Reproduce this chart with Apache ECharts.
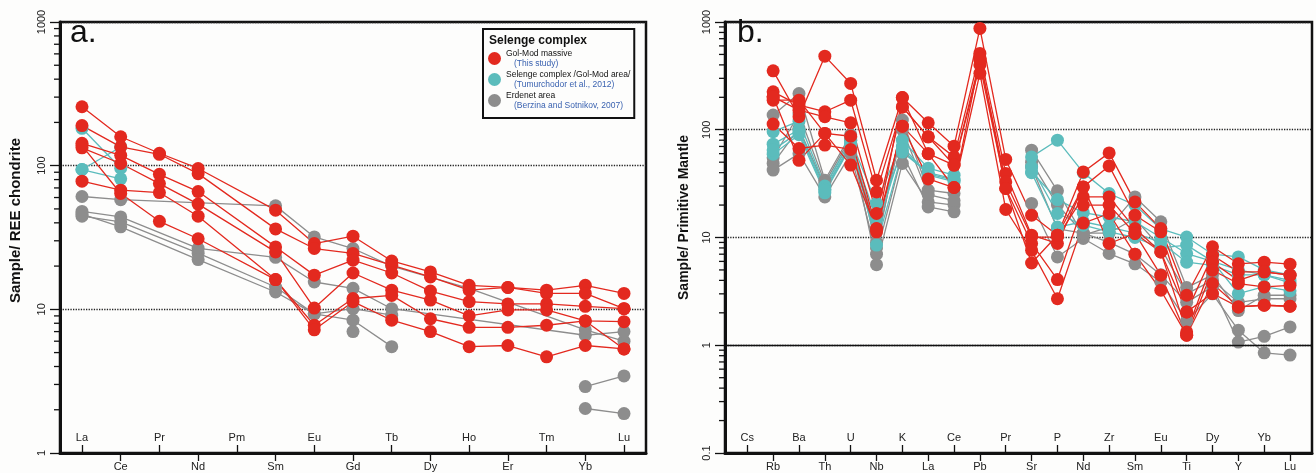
<!DOCTYPE html>
<html>
<head>
<meta charset="utf-8">
<script src="https://cdn.jsdelivr.net/npm/echarts@6/dist/echarts.min.js"></script>
<style>
  html, body { margin: 0; padding: 0; background: #fdfdfc; }
  #chart { width: 1316px; height: 473px; }
</style>
</head>
<body>
<div id="chart"></div>
<script>
// a. chondrite normalised REE
var reeLabels = ['La', 'Ce', 'Pr', 'Nd', 'Pm', 'Sm', 'Eu', 'Gd', 'Tb', 'Dy', 'Ho', 'Er', 'Tm', 'Yb', 'Lu'];
// b. primitive mantle normalised
var pmLabels = ['Cs', 'Rb', 'Ba', 'Th', 'U', 'Nb', 'K', 'La', 'Ce', 'Pb', 'Pr', 'Sr', 'P', 'Nd', 'Zr', 'Sm', 'Eu', 'Ti', 'Dy', 'Y', 'Yb', 'Lu'];

var reeTicks = [1, 10, 100, 1000];
var pmTicks = [0.1, 1, 10, 100, 1000];
var reeMinorTicks = [2, 3, 4, 5, 6, 7, 8, 9, 20, 30, 40, 50, 60, 70, 80, 90, 200, 300, 400, 500, 600, 700, 800, 900];
var pmMinorTicks = [0.2, 0.3, 0.4, 0.5, 0.6, 0.7, 0.8, 0.9, 2, 3, 4, 5, 6, 7, 8, 9, 20, 30, 40, 50, 60, 70, 80, 90, 200, 300, 400, 500, 600, 700, 800, 900];

// Gol-Mod massive (this study)
var reeRed1 = [257, 159, 122, 95.6, null, 49, 28.7, 32.3, 21.7, 18.2, 14.7, 14.2, 13.6, 14.7, 12.9];
var reeRed2 = [190, 135, 120, 88, null, 36.3, 26.5, 24.5, 20.3, 16.8, 13.6, 14.2, 12.9, 12.9, 10.1];
var reeRed3 = [143, 118, 87, 66, null, 27.2, 17.3, 22, 17.9, 13.4, 11.3, 10.9, 10.9, 10.5, 10.1];
var reeRed4 = [133, 103.5, 75, 54, null, 25.1, 10.2, 17.9, 13.6, 11.6, 9.0, 9.9, 9.9, 8.3, 8.2];
var reeRed5 = [78, 67.5, 65, 44.5, null, 16.1, 7.75, 11.9, 12.5, 8.6, 7.5, 7.5, 7.75, 8.3, 5.3];
var reeRed6 = [138, 64, 41, 31, null, 16.1, 7.2, 11.3, 8.4, 7.0, 5.5, 5.6, 4.67, 5.6, 5.3];
// Selenge complex /Gol-Mod area/
var reeTeal1 = [182, 96, null, null, null, null, null, null, null, null, null, null, null, null, null];
var reeTeal2 = [94, 135, null, null, null, null, null, null, null, null, null, null, null, null, null];
var reeTeal3 = [94, 81, null, null, null, null, null, null, null, null, null, null, null, null, null];
// Erdenet area
var reeGray1 = [61, 58, null, null, null, 52.5, 31.9, 26.5, 20, null, 14, null, null, 7.2, 6.0];
var reeGray2 = [48, 44, null, 26.6, null, 23, 15.5, 14, 10.1, null, null, null, null, 6.6, 7.0];
var reeGray3 = [44.5, 40.6, null, 24.6, null, 14.3, 9.3, 10.1, 9.1, null, null, null, null, null, null];
var reeGray4 = [46, 37.5, null, 22.2, null, 13.2, 9.3, 8.4, 5.5, null, null, null, null, null, null];
var reeGray5 = [null, null, null, null, null, null, null, 7.0, null, null, null, null, null, 2.9, 3.44];
var reeGray6 = [null, null, null, null, null, null, null, null, null, null, null, null, null, 2.04, 1.88];

var pmRed1 = [null, 352, 132, 482, 269, 34, 199, 116, 70.4, 871, 53, 16.1, 10.5, 40.6, 61, 21.4, 12.1, 2.91, 8.2, 5.7, 5.9, 5.65];
var pmRed2 = [null, 225, 169, 147, 188, 26.5, 163, 86, 56, 511, 39.3, 10.5, 8.8, 29.5, 46.2, 16.1, 11.3, 2.04, 6.85, 4.8, 4.8, 4.47];
var pmRed3 = [null, 202, 152, 132, 116, 16.7, 163, 86, 47, 443, 32.8, 10.1, 10.1, 23.8, 23.8, 12.1, 7.35, 1.33, 5.9, 4.0, 4.8, 4.47];
var pmRed4 = [null, 188, 188, 92.5, 87, 12.1, 108, 60, 47, 400, 28.5, 8.8, 4.07, 20, 20, 10.9, 4.47, 1.24, 4.97, 3.74, 3.48, 3.6];
var pmRed5 = [null, 113, 67, 72, 65.6, 11.3, 108, 35, 29.1, 334, 18.2, 7.6, 2.7, 13.6, 16.7, 7.0, 3.24, 1.24, 3.74, 2.27, 2.35, 2.3];
var pmRed6 = [null, 202, 52, 92.5, 47, 12, 199, 60, 29.1, 460, 28.5, 5.8, 10.5, 29.5, 8.8, 10.9, 7.35, 2.04, 3.02, 2.27, 2.35, 2.3];

var pmTeal1 = [null, 96, 120, 30, 80, 20.8, 80, 44, 37.9, null, null, 56, 80, 40, 25.6, 20, 12, 10.1, 7, 6.6, 5, 4.5];
var pmTeal2 = [null, 73.5, 100, 28, 75, 8.5, 62, 40, 35, null, null, 40.6, 22.5, 17, 15.5, 14, 10, 7.1, 6, 3.02, 3.5, 3.2];
var pmTeal3 = [null, 59.3, 90, 26, 70, 12, 70, 38, 33, null, null, 40, 12.5, 14, 12.5, 11, 9, 5.9, 5.5, 4.5, 4.5, 4];
var pmTeal4 = [null, 65, 95, 27, 72, 15, 65, 39, 34, null, null, 45, 16.7, 13, 11.3, 10, 8, 8.5, 6, 5, 4.5, 3.8];

var pmGray1 = [null, 137, 217, 34, 90, 8, 123, 27.5, 25.6, null, null, 64.6, 27.1, 10.5, 12.5, 23.8, 14, 3.43, 4.5, 2.1, 2.91, 2.91];
var pmGray2 = [null, 48.7, 103, 29.5, 80, 5.6, 48.7, 21.4, 20, null, null, 20.7, 6.6, 9.8, 7.1, 5.7, 3.87, 1.68, 3.0, 1.38, 0.85, 0.81];
var pmGray3 = [null, 42.2, 60, 23.8, 60, 7, 60, 19.2, 17.3, null, null, 45, 12, 11, 9, 7, 4.5, 2.5, 3.5, 1.07, 1.21, 1.48];
var pmGray4 = [null, 55, 140, 32, 85, 9, 100, 25, 22, null, null, 50, 20, 11, 11, 15, 8, 3, 4, 2.5, 2.7, 2.7];

var NAME_RED = 'Gol-Mod massive';
var NAME_TEAL = 'Selenge complex /Gol-Mod area/';
var NAME_GRAY = 'Erdenet area';
var refs = {};
refs[NAME_RED] = '(This study)';
refs[NAME_TEAL] = '(Tumurchodor et al., 2012)';
refs[NAME_GRAY] = '(Berzina and Sotnikov, 2007)';

var RED = '#e3291f', TEAL = '#5bbcbc', GRAY = '#8d8d8d', INK = '#111';
var FONT = '"Liberation Sans", Arial, Helvetica, sans-serif';

function sampleLine(name, values, color, grid, connect) {
    return {
        name: name,
        type: 'line',
        xAxisIndex: grid * 2,
        yAxisIndex: grid,
        data: values.map(function (v, i) { return [i + 1, v == null ? '-' : v]; }),
        connectNulls: !!connect,
        symbol: 'circle',
        symbolSize: 13,
        itemStyle: { color: color },
        lineStyle: { color: color, width: 1.3 },
        emphasis: { disabled: true },
        animation: false
    };
}

// short minor ticks to the left of the log axis
function minorTicks(grid, values) {
    return {
        type: 'custom',
        xAxisIndex: grid * 2,
        yAxisIndex: grid,
        silent: true,
        clip: false,
        animation: false,
        data: values.map(function (v) { return [1, v]; }),
        renderItem: function (params, api) {
            var y = api.coord([1, api.value(1)])[1];
            var x0 = params.coordSys.x;
            return { type: 'line', shape: { x1: x0 - 6, y1: y, x2: x0, y2: y }, style: { stroke: INK, lineWidth: 1.3 } };
        }
    };
}

function elementAxis(grid, labels, min, max, inside) {
    var vals = labels.map(function (_, i) { return i + 1; })
        .filter(function (v) { return inside ? v % 2 === 1 : v % 2 === 0; });
    return {
        type: 'value',
        gridIndex: grid,
        position: 'bottom',
        min: min,
        max: max,
        axisLine: { show: inside, onZero: false, lineStyle: { color: INK, width: 3 } },
        axisTick: { show: true, inside: inside, length: 8, customValues: vals, lineStyle: { color: INK, width: 1.3 } },
        axisLabel: {
            inside: inside, margin: inside ? 10 : 8, customValues: vals,
            formatter: function (v) { return labels[Math.round(v) - 1]; },
            fontSize: 11, color: '#222'
        },
        splitLine: { show: false }
    };
}

function logAxis(grid, min, max, name, nameSize, gap, shift) {
    return {
        type: 'log',
        logBase: 10,
        gridIndex: grid,
        min: min,
        max: max,
        name: name,
        nameLocation: 'middle',
        nameGap: gap,
        nameTextStyle: { fontSize: nameSize, fontWeight: 'bold', color: INK, padding: [0, 0, 0, shift] },
        axisLine: { show: true, lineStyle: { color: INK, width: 3 } },
        axisTick: { length: 10, lineStyle: { color: INK, width: 1.3 } },
        axisLabel: {
            rotate: 90, margin: 13, fontSize: 11, color: '#222',
            formatter: function (v) { return String(v); }
        },
        splitLine: { show: true, lineStyle: { type: 'dotted', color: '#222', width: 1.3 } }
    };
}

var series = [
    minorTicks(0, reeMinorTicks),
    minorTicks(1, pmMinorTicks),
    sampleLine(NAME_GRAY, reeGray1, GRAY, 0, true),
    sampleLine(NAME_GRAY, reeGray2, GRAY, 0, true),
    sampleLine(NAME_GRAY, reeGray3, GRAY, 0, true),
    sampleLine(NAME_GRAY, reeGray4, GRAY, 0, true),
    sampleLine(NAME_GRAY, reeGray5, GRAY, 0, false),
    sampleLine(NAME_GRAY, reeGray6, GRAY, 0, false),
    sampleLine(NAME_TEAL, reeTeal1, TEAL, 0, false),
    sampleLine(NAME_TEAL, reeTeal2, TEAL, 0, false),
    sampleLine(NAME_TEAL, reeTeal3, TEAL, 0, false),
    sampleLine(NAME_RED, reeRed1, RED, 0, true),
    sampleLine(NAME_RED, reeRed2, RED, 0, true),
    sampleLine(NAME_RED, reeRed3, RED, 0, true),
    sampleLine(NAME_RED, reeRed4, RED, 0, true),
    sampleLine(NAME_RED, reeRed5, RED, 0, true),
    sampleLine(NAME_RED, reeRed6, RED, 0, true),
    sampleLine(NAME_GRAY, pmGray1, GRAY, 1, false),
    sampleLine(NAME_GRAY, pmGray2, GRAY, 1, false),
    sampleLine(NAME_GRAY, pmGray3, GRAY, 1, false),
    sampleLine(NAME_GRAY, pmGray4, GRAY, 1, false),
    sampleLine(NAME_TEAL, pmTeal1, TEAL, 1, false),
    sampleLine(NAME_TEAL, pmTeal2, TEAL, 1, false),
    sampleLine(NAME_TEAL, pmTeal3, TEAL, 1, false),
    sampleLine(NAME_TEAL, pmTeal4, TEAL, 1, false),
    sampleLine(NAME_RED, pmRed1, RED, 1, false),
    sampleLine(NAME_RED, pmRed2, RED, 1, false),
    sampleLine(NAME_RED, pmRed3, RED, 1, false),
    sampleLine(NAME_RED, pmRed4, RED, 1, false),
    sampleLine(NAME_RED, pmRed5, RED, 1, false),
    sampleLine(NAME_RED, pmRed6, RED, 1, false)
];

// solid reference line at 1 on the mantle plot
series[1].markLine = {
    silent: true, symbol: 'none', animation: false,
    label: { show: false },
    lineStyle: { type: 'solid', color: INK, width: 1.3 },
    data: [{ yAxis: 1 }]
};

var chart = echarts.init(document.getElementById('chart'), null, { renderer: 'canvas' });
chart.setOption({
    backgroundColor: '#fdfdfc',
    animation: false,
    textStyle: { fontFamily: FONT },
    title: [
        { text: 'a.', left: 70, top: 17, padding: 0, textStyle: { fontSize: 32, fontWeight: 'normal', color: INK, fontFamily: FONT } },
        { text: 'b.', left: 737, top: 17, padding: 0, textStyle: { fontSize: 32, fontWeight: 'normal', color: INK, fontFamily: FONT } },
        { text: 'Selenge complex', left: 489, top: 35, padding: 0, textStyle: { fontSize: 12, fontWeight: 'bold', color: INK, fontFamily: FONT } }
    ],
    legend: {
        data: [NAME_RED, NAME_TEAL, NAME_GRAY],
        orient: 'vertical',
        left: 483,
        top: 29,
        padding: [20, 4, 8, 5],
        itemGap: 2,
        itemWidth: 13,
        itemHeight: 13,
        icon: 'circle',
        borderColor: INK,
        borderWidth: 2,
        selectedMode: false,
        formatter: function (n) { return '{m|' + n + '}\n{s|' + refs[n] + '}'; },
        textStyle: {
            fontFamily: FONT,
            rich: {
                m: { fontSize: 8.5, color: INK, lineHeight: 10, fontFamily: FONT },
                s: { fontSize: 8.5, color: '#3a62b0', lineHeight: 10, padding: [0, 0, 0, 8], fontFamily: FONT }
            }
        }
    },
    grid: [
        { left: 60, top: 22, width: 586, height: 431, show: true, borderColor: INK, borderWidth: 2.5, backgroundColor: 'transparent' },
        { left: 725, top: 22, width: 587, height: 431, show: true, borderColor: INK, borderWidth: 2.5, backgroundColor: 'transparent' }
    ],
    xAxis: [
        elementAxis(0, reeLabels, 0.432, 15.568, true),
        elementAxis(0, reeLabels, 0.432, 15.568, false),
        elementAxis(1, pmLabels, 0.137, 22.85, true),
        elementAxis(1, pmLabels, 0.137, 22.85, false)
    ],
    yAxis: [
        logAxis(0, reeTicks[0], reeTicks[reeTicks.length - 1], 'Sample/ REE chondrite', 15, 37, 34),
        logAxis(1, pmTicks[0], pmTicks[pmTicks.length - 1], 'Sample/ Primitive Mantle', 14, 34, 40)
    ],
    series: series
});
</script>
</body>
</html>
